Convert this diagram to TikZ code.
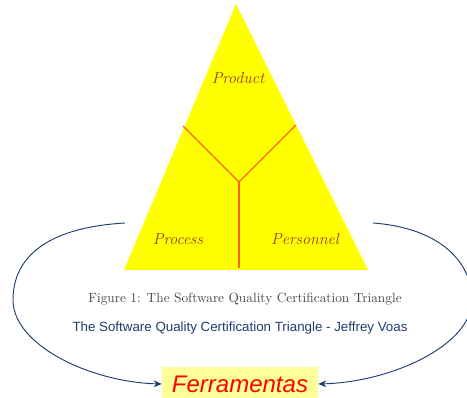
\documentclass[tikz,border=0pt]{standalone}
\usepackage{fontspec}
\newfontfamily\sansarial{Liberation Sans}
\usetikzlibrary{arrows.meta,positioning}
\definecolor{triyellow}{RGB}{255,255,0}
\definecolor{boxyellow}{RGB}{255,255,153}
\definecolor{splitline}{RGB}{255,100,20}
\definecolor{labelbrown}{RGB}{150,60,30}
\definecolor{voasblue}{RGB}{30,60,110}
\definecolor{captiongray}{RGB}{70,70,70}
\begin{document}
\begin{tikzpicture}[x=0.75pt, y=-0.75pt,
    corner/.style={font=\itshape\large, text=labelbrown},
    loop/.style={draw=voasblue, line width=0.7pt, -{Stealth[length=6pt,width=5pt]}}]
    \useasboundingbox (0,0) rectangle (467,398);
    % triangle
    \fill[triyellow] (236,4) -- (368,270) -- (124,270) -- cycle;
    \coordinate (mid) at (239,182);
    \draw[splitline, line width=1pt] (183,126) -- (mid) -- (296,125);
    \draw[splitline, line width=1pt] (mid) -- (239,268);
    \node[corner] (product) at (238,78) {Product};
    \node[corner] (process) at (178,239) {Process};
    \node[corner] (personnel) at (305,239) {Personnel};
    % captions
    \node[text=captiongray, font=\normalsize] (caption) at (245,299) {Figure 1: The Software Quality Certification Triangle};
    \node[text=voasblue, font=\sansarial\normalsize] (source) at (240,328) {The Software Quality Certification Triangle - Jeffrey Voas};
    % tools box
    \node[fill=boxyellow, minimum width=117pt, minimum height=26pt, inner sep=0pt,
          text=red, font=\sansarial\itshape\fontsize{18}{21}\selectfont] (ferr) at (240,384) {Ferramentas};
    \coordinate (lstart) at (125,223);
    \coordinate (rstart) at (373,223);
    \draw[loop] (lstart) .. controls (40,228) and (13,262) .. (13,300)
        .. controls (13,345) and (90,382) .. (ferr.west);
    \draw[loop] (rstart) .. controls (440,228) and (472,262) .. (472,300)
        .. controls (472,345) and (392,382) .. (ferr.east);
\end{tikzpicture}
\end{document}
